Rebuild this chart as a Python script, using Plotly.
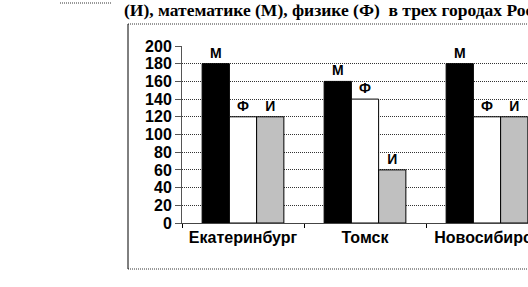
import plotly.graph_objects as go

cities = ["Екатеринбург", "Томск", "Новосибирск"]
series_names = ["М", "Ф", "И"]
math_vals = [180, 160, 180]
phys_vals = [120, 140, 120]
inf_vals = [120, 60, 120]
y_ticks = [0, 20, 40, 60, 80, 100, 120, 140, 160, 180, 200]
title_text = "(И), математике (М), физике (Ф)  в трех городах России"

W, H = 528, 287
L, R, T, B = 182, 0, 46, 64
PW = W - L - R
PH = H - T - B

def px(x):
    return (x - L) / PW

def py(y):
    return (H - B - y) / PH

colors = ["#000000", "#FFFFFF", "#C0C0C0"]
fig = go.Figure()
for name, vals, col in zip(series_names, [math_vals, phys_vals, inf_vals], colors):
    fig.add_trace(go.Bar(
        x=cities, y=vals, name=name, marker=dict(color=col, line=dict(color="#000", width=1)),
        text=[name] * len(vals), textposition="outside", cliponaxis=False,
        textfont=dict(family="Liberation Sans", size=14, color="#000", weight="bold"),
    ))

cat_w = 122
fig.update_layout(
    width=W, height=H, margin=dict(l=L, r=R, t=T, b=B, autoexpand=False),
    paper_bgcolor="white", plot_bgcolor="white",
    barmode="group", bargap=0.33, bargroupgap=0, showlegend=False,
    font=dict(family="Liberation Sans", color="#000"),
)
fig.update_xaxes(
    type="category", range=[-0.5, -0.5 + PW / cat_w], tickson="boundaries",
    ticks="outside", ticklen=4, tickcolor="#000", showgrid=False, tickangle=0,
    automargin=False, showline=True, linecolor="#444", linewidth=1,
    tickfont=dict(family="Liberation Sans", size=16, color="#000", weight="bold"),
)
fig.update_yaxes(
    range=[0, 200], tickvals=y_ticks, ticks="outside", ticklen=6, tickcolor="#555",
    showgrid=True, gridcolor="#333", griddash="1px,1px", gridwidth=1, zeroline=False,
    automargin=False, showline=True, linecolor="#555", linewidth=1,
    tickfont=dict(family="Liberation Sans", size=16, color="#000", weight="bold"),
)

shapes = [
    dict(type="line", xref="paper", yref="paper", x0=px(128), x1=px(540), y0=py(24), y1=py(24),
         line=dict(color="#333", width=1, dash="1px,1px")),
    dict(type="line", xref="paper", yref="paper", x0=px(128), x1=px(540), y0=py(269), y1=py(269),
         line=dict(color="#333", width=1, dash="1px,1px")),
    dict(type="line", xref="paper", yref="paper", x0=px(128), x1=px(128), y0=py(24), y1=py(269),
         line=dict(color="#000", width=1)),
    dict(type="line", xref="paper", yref="paper", x0=px(60), x1=px(112), y0=py(3), y1=py(3),
         line=dict(color="#333", width=1, dash="1px,1px")),
]
fig.update_layout(shapes=shapes)
fig.add_annotation(
    x=px(122), y=py(10), xref="paper", yref="paper", xanchor="left", yanchor="middle",
    text="<b>" + title_text + "</b>", showarrow=False,
    font=dict(family="Liberation Serif", size=17.5, color="#000"),
)
fig.write_html("out.html")
